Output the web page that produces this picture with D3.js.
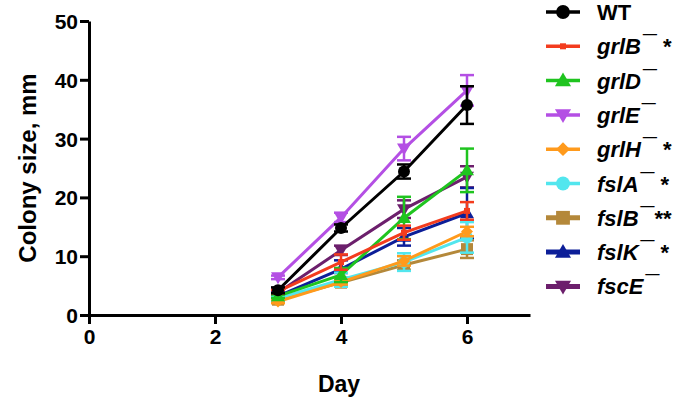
<!DOCTYPE html>
<html><head><meta charset="utf-8">
<script src="https://cdn.jsdelivr.net/npm/d3@7"></script>
<style>body{margin:0;background:#fff}svg{display:block}text{font-family:"Liberation Sans",Arial,sans-serif;font-weight:bold}</style>
</head><body><svg id="c" width="680" height="400"></svg>
<script>
const days = [3, 4, 5, 6];
const xTicks = [0, 2, 4, 6];
const yTicks = [0, 10, 20, 30, 40, 50];
const names = ["WT", "grlB", "grlD", "grlE", "grlH", "fslA", "fslB", "fslK", "fscE"];
const superscripted = [false, true, true, true, true, true, true, true, true];
const suffixes = ["", " *", "", "", " *", " *", "**", " *", ""];
const colors = ["#000000", "#f33c1e", "#1fc41f", "#b44fe4", "#ff9a1c", "#52e6ee", "#b4883a", "#0c1e98", "#6c1f6c"];
const shapes = ["circle", "smallsquare", "triup", "tridown", "diamond", "circle", "square", "triup", "tridown"];
const means = [
  [4.2, 14.8, 24.4, 35.7],
  [4.0, 9.0, 14.0, 17.7],
  [3.2, 6.8, 16.5, 24.6],
  [6.4, 16.6, 28.3, 38.2],
  [2.3, 5.6, 9.2, 14.2],
  [2.8, 6.0, 9.0, 13.2],
  [2.6, 5.5, 8.5, 11.2],
  [3.2, 7.8, 13.3, 17.3],
  [3.8, 11.0, 18.0, 23.5]
];
const errs = [
  [0.5, 0.6, 1.2, 3.2],
  [0.3, 1.3, 1.2, 1.5],
  [0.3, 1.2, 3.6, 3.7],
  [0.3, 0.8, 2.0, 2.6],
  [0.3, 0.4, 0.8, 0.8],
  [0.3, 1.2, 1.5, 2.6],
  [0.3, 0.6, 0.8, 1.5],
  [0.3, 1.5, 1.5, 4.3],
  [0.3, 0.8, 1.5, 1.8]
];

const svg = d3.select("#c");
const x = d3.scaleLinear().domain([0, 7]).range([89, 530]);
const y = d3.scaleLinear().domain([0, 50]).range([315, 21]);

// axes
const ax = svg.append("g").attr("transform", `translate(0,${y(0)})`)
  .call(d3.axisBottom(x).tickValues(xTicks).tickFormat(d3.format("d")).tickSize(9).tickSizeOuter(0).tickPadding(3));
const ay = svg.append("g").attr("transform", `translate(${x(0)},0)`)
  .call(d3.axisLeft(y).tickValues(yTicks).tickFormat(d3.format("d")).tickSize(9).tickSizeOuter(0).tickPadding(2));
[ax, ay].forEach(g => {
  g.select(".domain").attr("stroke", "#000").attr("stroke-width", 3);
  g.selectAll(".tick line").attr("stroke", "#000").attr("stroke-width", 3);
  g.selectAll(".tick text").attr("font-size", 21).attr("font-weight", "bold")
    .attr("font-family", "Liberation Sans, Arial, sans-serif").attr("fill", "#000");
});
ax.selectAll(".tick text").attr("dy", "0.8em");
ay.selectAll(".tick text").attr("dy", "0.36em");

svg.append("text").attr("x", 339).attr("y", 392).attr("text-anchor", "middle")
  .attr("font-size", 23).text("Day");
svg.append("text").attr("transform", "translate(36,168) rotate(-90)").attr("text-anchor", "middle")
  .attr("font-size", 24).text("Colony size, mm");

function marker(g, shape, cx, cy, col, s) {
  s = s || 1;
  if (shape === "circle") g.append("circle").attr("cx", cx).attr("cy", cy).attr("r", 6 * s).attr("fill", col);
  else if (shape === "smallsquare") g.append("rect").attr("x", cx - 3).attr("y", cy - 3).attr("width", 6).attr("height", 6).attr("fill", col);
  else if (shape === "square") g.append("rect").attr("x", cx - 6 * s).attr("y", cy - 6 * s).attr("width", 12 * s).attr("height", 12 * s).attr("fill", col);
  else if (shape === "diamond") g.append("path").attr("d", `M${cx},${cy-6*s}L${cx+6*s},${cy}L${cx},${cy+6*s}L${cx-6*s},${cy}Z`).attr("fill", col);
  else if (shape === "triup") g.append("path").attr("d", `M${cx},${cy-7*s}L${cx+7*s},${cy+5*s}L${cx-7*s},${cy+5*s}Z`).attr("fill", col);
  else if (shape === "tridown") g.append("path").attr("d", `M${cx},${cy+7*s}L${cx+7*s},${cy-5*s}L${cx-7*s},${cy-5*s}Z`).attr("fill", col);
}

const line = d3.line().x(d => x(d[0])).y(d => y(d[1]));
const order = d3.range(names.length).reverse();
order.forEach(i => {
  const g = svg.append("g");
  const pts = days.map((d, j) => [d, means[i][j], errs[i][j]]);
  g.append("path").attr("d", line(pts)).attr("fill", "none").attr("stroke", colors[i]).attr("stroke-width", 3);
  pts.forEach(p => {
    const cx = x(p[0]);
    g.append("line").attr("x1", cx).attr("x2", cx).attr("y1", y(p[1] - p[2])).attr("y2", y(p[1] + p[2]))
      .attr("stroke", colors[i]).attr("stroke-width", 2.5);
    [p[1] - p[2], p[1] + p[2]].forEach(v => g.append("line").attr("x1", cx - 7).attr("x2", cx + 7)
      .attr("y1", y(v)).attr("y2", y(v)).attr("stroke", colors[i]).attr("stroke-width", 2.5));
    marker(g, shapes[i], cx, y(p[1]), colors[i]);
  });
});

// legend
const lg = svg.append("g");
names.forEach((n, i) => {
  const cy = 12 + i * 34.3;
  lg.append("line").attr("x1", 546).attr("x2", 580).attr("y1", cy).attr("y2", cy)
    .attr("stroke", colors[i]).attr("stroke-width", i >= 6 ? 5 : 3.5);
  marker(lg, shapes[i], 563, cy, colors[i], 1.15);
  const t = lg.append("text").attr("x", 597).attr("y", cy + 8).attr("font-size", 22);
  t.append("tspan").attr("font-style", i === 0 ? "normal" : "italic").text(n);
  if (superscripted[i]) {
    t.append("tspan").attr("dx", 2).attr("font-size", 25).attr("font-style", "normal").text("\u00AF");
    t.append("tspan").attr("font-style", "normal").text(suffixes[i]);
  }
});
</script></body></html>
